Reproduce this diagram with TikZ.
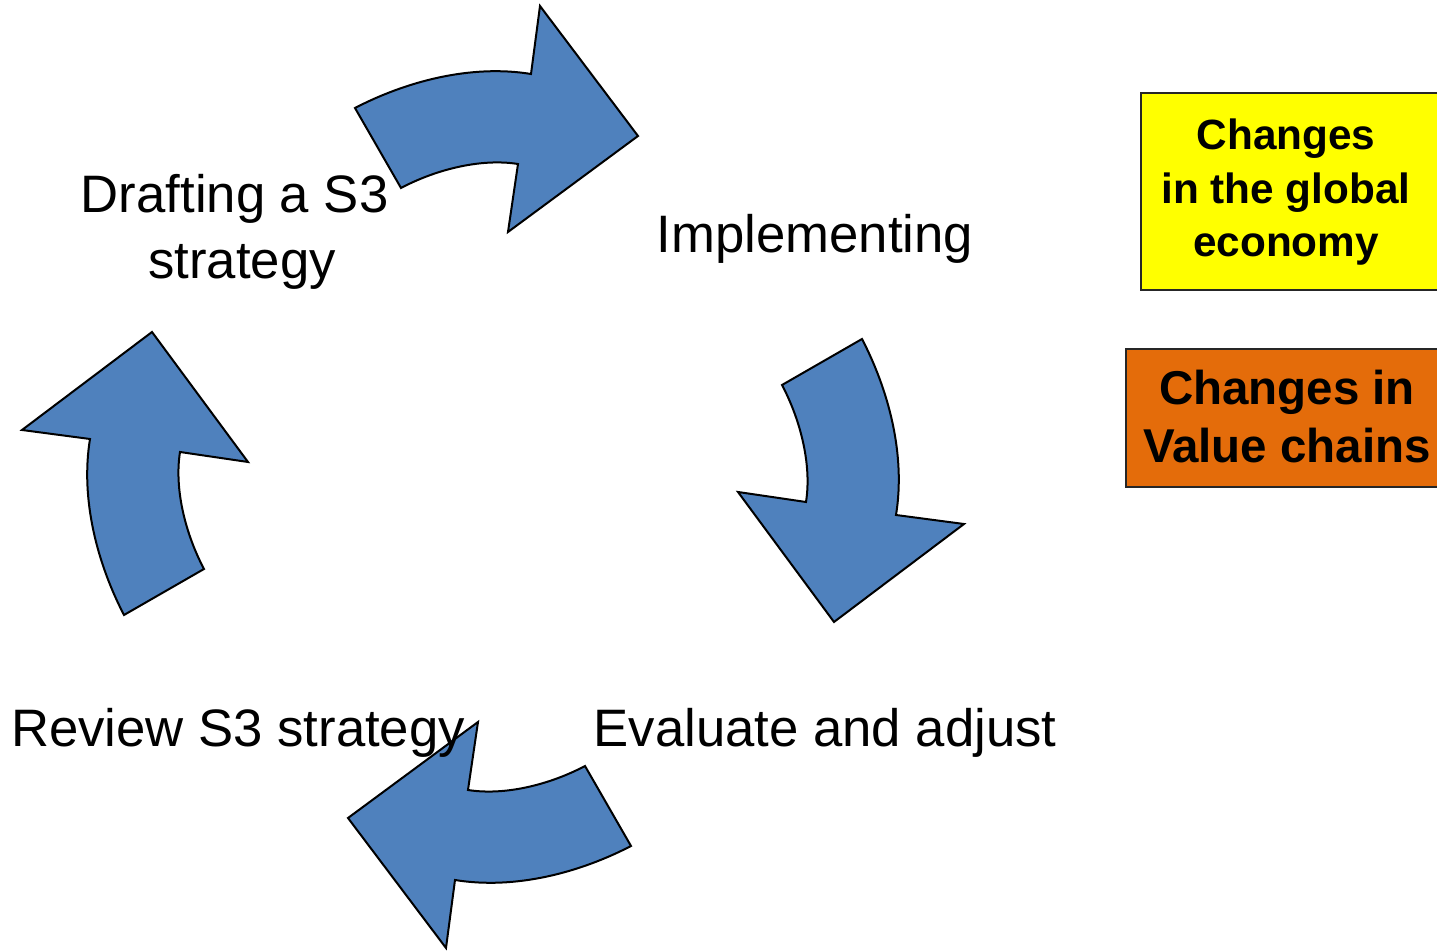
\documentclass[tikz,border=0pt]{standalone}
\usepackage{fontspec}
\setmainfont{Liberation Sans}
\definecolor{arrowblue}{HTML}{4F81BD}
\definecolor{boxorange}{HTML}{E46C0A}
\definecolor{boxyellow}{HTML}{FFFF00}

\begin{document}
\begin{tikzpicture}[x=0.5pt,y=-0.5pt]
\begin{scope}

\tikzstyle{arrow1} = [draw=black,line width=1pt,fill=arrowblue];
\tikzstyle{label1} = [inner sep=0pt,anchor=base,align=center,font=\fontsize{26.35}{33}\selectfont];
\tikzstyle{box1} = [minimum width=160pt,minimum height=98.5pt,draw=black!85,line width=0.9pt,fill=boxyellow,inner sep=0pt];
\tikzstyle{box2} = [minimum width=167.5pt,minimum height=69pt,draw=black!85,line width=0.9pt,fill=boxorange,inner sep=0pt];
\tikzstyle{label2} = [inner sep=0pt,anchor=base,align=center,font=\bfseries\fontsize{21.15}{26.75}\selectfont];
\tikzstyle{label3} = [inner sep=0pt,anchor=base,align=center,font=\bfseries\fontsize{23.75}{29}\selectfont];

\useasboundingbox (0,0) rectangle (1437,951);
\clip (0,0) rectangle (1437,951);

\foreach \a in {0,-90,-180,-270}
  \draw [arrow1,rotate around={\a:(493,477)}] (355,108) .. controls (405,82) and (470,64) .. (531,74) -- (540,6) -- (638,136) -- (508,232) -- (518,164) .. controls (480,158) and (435,170) .. (401,188) -- cycle;

\node [label1] (draft) at (242,279) {Drafting a S3\hspace*{0.278em}\\strategy};
\node [label1] (impl) at (815,253) {Implementing};
\node [label1] (eval) at (825,747) {Evaluate and adjust};
\node [label1] (rev) at (238,747) {Review S3 strategy};

\node [box1,anchor=north west] (g1) at (1140,92) {};
\node [label2] (g2) at (1286,257) {Changes\\in the global\\economy};
\node [box2,anchor=north west] (v1) at (1125,348) {};
\node [label3] (v2) at (1287,463) {Changes in\\Value chains};

\end{scope}
\end{tikzpicture}
\end{document}
